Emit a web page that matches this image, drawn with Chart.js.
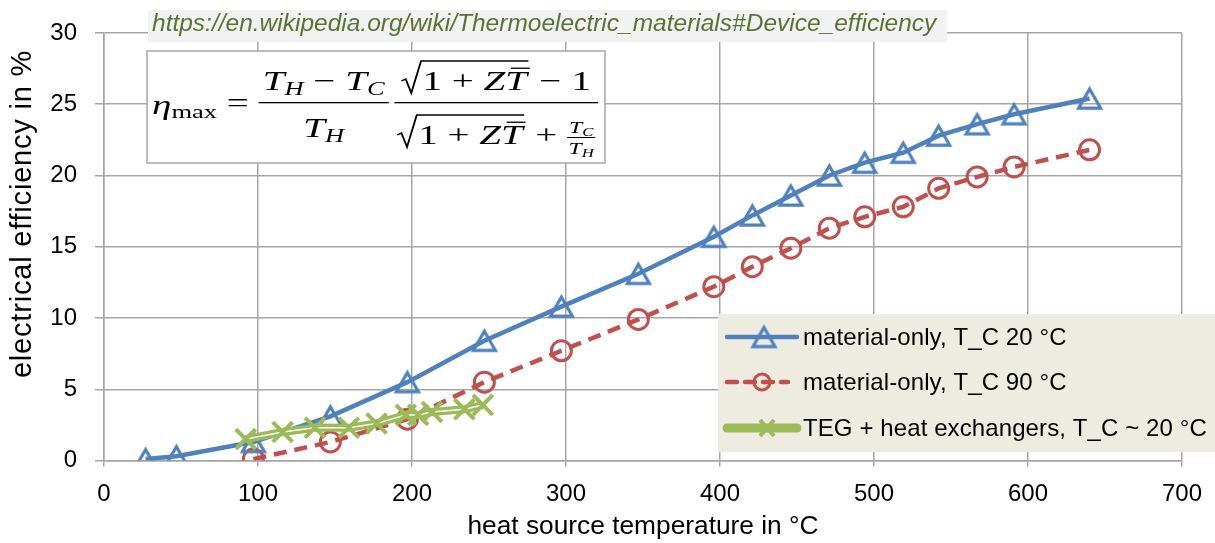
<!DOCTYPE html>
<html>
<head>
<meta charset="utf-8">
<title>Thermoelectric efficiency</title>
<script src="https://cdn.jsdelivr.net/npm/chart.js@4"></script>
<style>
  html, body { margin: 0; padding: 0; background: #fff; }
  canvas { display: block; }
</style>
</head>
<body>
<canvas id="chart" width="1215" height="543"></canvas>
<script>
// heat source temperature (°C) and electrical efficiency (%)
const tc20Temp = [27, 47, 97, 147, 197, 247, 297, 347, 396, 421, 446, 471, 494, 519, 542, 567, 591, 640];
const tc20Eff = [0.1, 0.3, 1.3, 3.1, 5.5, 8.4, 10.8, 13.1, 15.7, 17.2, 18.6, 20.0, 20.9, 21.6, 22.8, 23.6, 24.3, 25.4];

const tc90Temp = [97, 147, 197, 247, 297, 347, 396, 421, 446, 471, 494, 519, 542, 567, 591, 640];
const tc90Eff = [0.1, 1.3, 2.9, 5.5, 7.7, 9.9, 12.2, 13.6, 14.9, 16.3, 17.1, 17.8, 19.1, 19.9, 20.6, 21.8];

const tegTemp = [92, 116, 137, 159, 177, 196, 204, 213, 234, 246];
const tegEff = [1.5, 2.0, 2.3, 2.3, 2.6, 3.2, 3.2, 3.4, 3.6, 3.9];

const seriesNames = ['material-only, T_C 20 °C', 'material-only, T_C 90 °C', 'TEG + heat exchangers, T_C ~ 20 °C'];
const xTicks = [0, 100, 200, 300, 400, 500, 600, 700];
const yTicks = [0, 5, 10, 15, 20, 25, 30];
const xTitle = 'heat source temperature in °C';
const yTitle = 'electrical efficiency in %';
const sourceUrl = 'https://en.wikipedia.org/wiki/Thermoelectric_materials#Device_efficiency';

const BLUE = '#4f81bd';
const RED = '#c0504d';
const GREEN = '#9bbb59';
const GRID = '#a6a6a6';
const SANS = '"Liberation Sans", Arial, sans-serif';
const SERIF = '"Liberation Serif", "DejaVu Serif", serif';

const pts = (xs, ys) => xs.map((x, i) => ({ x, y: ys[i] }));

// open triangle, centred on its bounding box like the office markers
function triangleMarker(side, color, lw) {
    const c = document.createElement('canvas');
    const size = Math.ceil(side + lw * 2 + 2);
    c.width = size;
    c.height = size;
    const g = c.getContext('2d');
    const h = side * 0.866;
    const m = size / 2;
    g.strokeStyle = color;
    g.lineWidth = lw;
    g.lineJoin = 'miter';
    g.beginPath();
    g.moveTo(m, m - h / 2);
    g.lineTo(m + side / 2, m + h / 2);
    g.lineTo(m - side / 2, m + h / 2);
    g.closePath();
    g.stroke();
    return c;
}
const tri = triangleMarker(22, BLUE, 3.2);

// ---- text overlays: source link, formula, legend, y title ----
function mfont(size, italic) {
    return (italic ? 'italic ' : '') + size + 'px ' + SERIF;
}
function runWidth(ctx, run) {
    let w = 0;
    for (const [t, it, sz] of run) {
        ctx.font = mfont(sz, it);
        w += ctx.measureText(t).width;
    }
    return w;
}
function drawRun(ctx, run, x, y) {
    for (const [t, it, sz, dy = 0, bar] of run) {
        ctx.font = mfont(sz, it);
        const w = ctx.measureText(t).width;
        ctx.fillText(t, x, y + dy);
        if (bar) ctx.fillRect(x + 4, y - sz * 0.8, w - 2, 1.3);
        x += w;
    }
    return x;
}
function drawSqrt(ctx, run, x, y) {
    const rad = 14;
    const w = runWidth(ctx, run);
    const top = y - 29;
    ctx.beginPath();
    ctx.moveTo(x, y - 9);
    ctx.lineTo(x + 3, y - 11);
    ctx.lineTo(x + 7, y + 3);
    ctx.lineTo(x + rad, top);
    ctx.lineTo(x + rad + w + 2, top);
    ctx.stroke();
    drawRun(ctx, run, x + rad + 1, y);
    return rad + w + 3;
}

function drawFormula(ctx) {
    const M = 28, S = 19;
    const lhs = [['η', true, M], ['max', false, S, 4]];
    const eq = [[' = ', false, M]];
    const n1 = [['T', true, M], ['H', true, S, 5], [' − ', false, M], ['T', true, M], ['C', true, S, 5]];
    const d1 = [['T', true, M], ['H', true, S, 5]];
    const body = [['1 + ', false, M], ['Z', true, M], ['T', true, M, 0, true]];
    const n2tail = [[' − 1', false, M]];
    const d2tail = [[' + ', false, M]];
    const sn = [['T', true, 17], ['C', true, 12, 3]];
    const sd = [['T', true, 17], ['H', true, 12, 3]];

    const lhsW = runWidth(ctx, lhs);
    const eqW = runWidth(ctx, eq);
    const f1W = Math.max(runWidth(ctx, n1), runWidth(ctx, d1)) + 6;
    const sqW = 14 + runWidth(ctx, body) + 3;
    const smallW = Math.max(runWidth(ctx, sn), runWidth(ctx, sd)) + 2;
    const n2W = sqW + runWidth(ctx, n2tail);
    const d2W = sqW + runWidth(ctx, d2tail) + smallW;
    const f2W = Math.max(n2W, d2W) + 4;
    const total = lhsW + eqW + f1W + 4 + f2W;

    const left = 152, width = 446;
    const bar = 102;
    ctx.save();
    ctx.translate(left, 0);
    ctx.scale(width / total, 1);
    ctx.fillStyle = '#000';
    ctx.strokeStyle = '#000';
    ctx.lineWidth = 1.3;
    ctx.textBaseline = 'alphabetic';

    let x = drawRun(ctx, lhs, 0, 114);
    x = drawRun(ctx, eq, x, 112);

    // first fraction
    ctx.fillRect(x, bar, f1W, 1.3);
    drawRun(ctx, n1, x + (f1W - runWidth(ctx, n1)) / 2, 90);
    drawRun(ctx, d1, x + (f1W - runWidth(ctx, d1)) / 2, 137);
    x += f1W + 4;

    // second fraction
    ctx.fillRect(x, bar, f2W, 1.3);
    let nx = x + (f2W - n2W) / 2;
    nx += drawSqrt(ctx, body, nx, 90);
    drawRun(ctx, n2tail, nx, 90);
    let dx = x + (f2W - d2W) / 2;
    dx += drawSqrt(ctx, body, dx, 144);
    dx = drawRun(ctx, d2tail, dx, 144);
    const sb = 137;
    ctx.fillRect(dx, sb, smallW, 1);
    drawRun(ctx, sn, dx + (smallW - runWidth(ctx, sn)) / 2, sb - 4);
    drawRun(ctx, sd, dx + (smallW - runWidth(ctx, sd)) / 2, sb + 17);
    ctx.restore();
}

function drawSource(ctx) {
    ctx.fillStyle = '#f2f2f2';
    ctx.fillRect(148, 10, 799, 32);
    ctx.font = 'italic 24.5px ' + SANS;
    ctx.fillStyle = '#5a7332';
    ctx.textBaseline = 'middle';
    ctx.textAlign = 'left';
    ctx.fillText(sourceUrl, 152, 24);
}

function drawFormulaBox(ctx) {
    ctx.fillStyle = '#fff';
    ctx.fillRect(147, 51, 458, 112);
    ctx.strokeStyle = GRID;
    ctx.lineWidth = 1.5;
    ctx.strokeRect(147, 51, 458, 112);
}

function drawYTitle(ctx) {
    ctx.save();
    ctx.translate(23, 214);
    ctx.rotate(-Math.PI / 2);
    ctx.fillStyle = '#000';
    ctx.font = '29px ' + SANS;
    ctx.letterSpacing = '0.8px';
    ctx.textAlign = 'center';
    ctx.textBaseline = 'middle';
    ctx.fillText(yTitle, 0, 0);
    ctx.restore();
}

function drawLegend(ctx) {
    ctx.fillStyle = '#eeece1';
    ctx.fillRect(718, 314, 497, 138);
    const rows = [337, 382, 428];
    const x0 = 727, x1 = 797;
    ctx.lineCap = 'round';

    // blue, solid with triangle
    ctx.strokeStyle = BLUE;
    ctx.lineWidth = 4.5;
    ctx.beginPath();
    ctx.moveTo(x0, rows[0]);
    ctx.lineTo(x1, rows[0]);
    ctx.stroke();
    ctx.drawImage(tri, 764 - tri.width / 2, rows[0] - tri.height / 2);

    // red, dashed with circle
    ctx.strokeStyle = RED;
    ctx.setLineDash([10, 8]);
    ctx.beginPath();
    ctx.moveTo(x0, rows[1]);
    ctx.lineTo(788, rows[1]);
    ctx.stroke();
    ctx.setLineDash([]);
    ctx.lineWidth = 3;
    ctx.beginPath();
    ctx.arc(762, rows[1], 8, 0, Math.PI * 2);
    ctx.stroke();

    // green, heavy with cross
    ctx.strokeStyle = GREEN;
    ctx.lineWidth = 9;
    ctx.beginPath();
    ctx.moveTo(x0, rows[2]);
    ctx.lineTo(x1, rows[2]);
    ctx.stroke();
    ctx.lineWidth = 4;
    ctx.lineCap = 'butt';
    ctx.beginPath();
    ctx.moveTo(760, rows[2] - 8); ctx.lineTo(774, rows[2] + 8);
    ctx.moveTo(774, rows[2] - 8); ctx.lineTo(760, rows[2] + 8);
    ctx.stroke();

    ctx.fillStyle = '#000';
    ctx.font = '24px ' + SANS;
    ctx.letterSpacing = '0.1px';
    ctx.textBaseline = 'middle';
    ctx.textAlign = 'left';
    seriesNames.forEach((name, i) => ctx.fillText(name, 803, rows[i] + 1));
    ctx.letterSpacing = '0px';
}

const overlay = {
    id: 'overlay',
    afterDraw(chart) {
        const ctx = chart.ctx;
        ctx.save();
        drawSource(ctx);
        drawFormulaBox(ctx);
        drawFormula(ctx);
        drawLegend(ctx);
        drawYTitle(ctx);
        ctx.restore();
    }
};

const tickFont = { family: SANS, size: 24 };

new Chart(document.getElementById('chart'), {
    type: 'scatter',
    data: {
        datasets: [
            {
                label: seriesNames[2],
                data: pts(tegTemp, tegEff),
                showLine: false,
                pointStyle: 'crossRot',
                pointRadius: 14,
                pointBorderWidth: 4,
                borderColor: GREEN,
                backgroundColor: GREEN
            },
            {
                // white core of the double green stroke
                label: 'teg-core',
                data: pts(tegTemp, tegEff),
                showLine: true,
                borderColor: '#ffffff',
                borderWidth: 1.5,
                pointRadius: 0
            },
            {
                label: 'teg-line',
                data: pts(tegTemp, tegEff),
                showLine: true,
                borderColor: GREEN,
                borderWidth: 8,
                pointRadius: 0
            },
            {
                label: seriesNames[0],
                data: pts(tc20Temp, tc20Eff),
                showLine: true,
                borderColor: BLUE,
                borderWidth: 4.5,
                pointStyle: tri,
                pointRadius: 11
            },
            {
                label: seriesNames[1],
                data: pts(tc90Temp, tc90Eff),
                showLine: true,
                borderColor: RED,
                borderWidth: 4.5,
                borderDash: [13, 8],
                pointStyle: 'circle',
                pointRadius: 10,
                pointBorderWidth: 3,
                pointBackgroundColor: 'rgba(0,0,0,0)',
                pointBorderColor: RED
            }
        ]
    },
    options: {
        responsive: false,
        animation: false,
        events: [],
        layout: { padding: { top: 33, right: 33, left: 8, bottom: 0 } },
        scales: {
            x: {
                type: 'linear',
                min: 0,
                max: 700,
                afterBuildTicks(scale) { scale.ticks = xTicks.map(v => ({ value: v })); },
                ticks: { color: '#000', font: tickFont, padding: 13, maxRotation: 0 },
                grid: { color: GRID, lineWidth: 1.5, tickLength: 6 },
                border: { color: GRID, width: 1.5 },
                title: {
                    display: true,
                    text: xTitle,
                    color: '#000',
                    font: { family: SANS, size: 26.3 },
                    padding: 0
                },
                afterFit(scale) { scale.height = 82.5; }
            },
            y: {
                min: 0,
                max: 30,
                afterBuildTicks(scale) { scale.ticks = yTicks.map(v => ({ value: v })); },
                ticks: { color: '#000', font: tickFont, padding: 18 },
                grid: { color: GRID, lineWidth: 1.5, tickLength: 9 },
                border: { color: GRID, width: 1.5 },
                afterFit(scale) { scale.width = 96; }
            }
        },
        plugins: {
            legend: { display: false },
            tooltip: { enabled: false }
        }
    },
    plugins: [overlay]
});
</script>
</body>
</html>
